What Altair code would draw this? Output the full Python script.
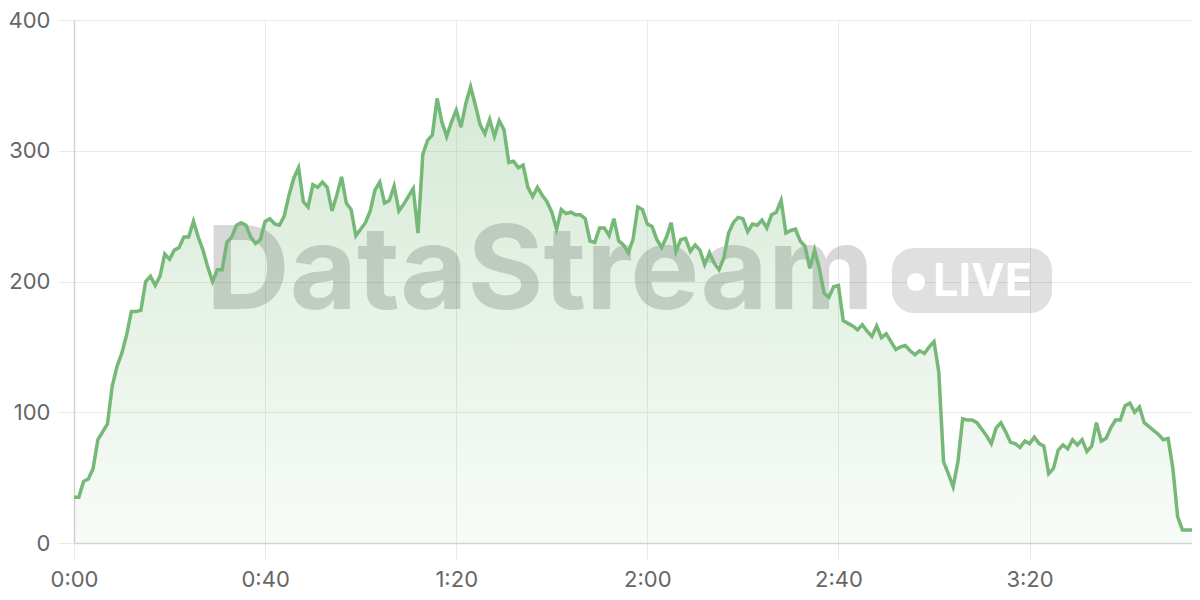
import altair as alt
import pandas as pd

values = [
    35, 35, 47, 49, 57, 79, 85, 91, 120, 135, 145, 159, 177, 177, 178, 200, 204, 197, 204, 221,
    217, 224, 226, 234, 234, 246, 234, 224, 211, 200, 209, 209, 230, 234, 243, 245, 243, 234, 229, 232,
    246, 248, 244, 243, 250, 266, 279, 287, 261, 257, 274, 272, 276, 272, 254, 266, 280, 260, 255, 235,
    240, 245, 254, 270, 276, 260, 262, 273, 254, 259, 265, 271, 237, 297, 308, 312, 340, 322, 311, 322,
    331, 318, 336, 349, 335, 320, 313, 324, 311, 323, 316, 291, 292, 287, 289, 272, 265, 272, 266, 261,
    253, 240, 255, 252, 253, 251, 251, 248, 231, 230, 241, 241, 235, 248, 231, 228, 222, 232, 257, 255,
    244, 242, 232, 226, 234, 245, 223, 232, 233, 223, 228, 224, 213, 222, 214, 209, 218, 237, 245, 249,
    248, 238, 244, 243, 247, 241, 251, 253, 262, 237, 239, 240, 231, 227, 210, 224, 210, 191, 188, 196,
    197, 170, 168, 166, 163, 167, 162, 158, 166, 157, 160, 154, 148, 150, 151, 147, 144, 147, 145, 150,
    154, 131, 62, 53, 43, 62, 95, 94, 94, 92, 87, 82, 76, 88, 92, 85, 77, 76, 73, 78,
    76, 81, 76, 74, 53, 57, 71, 75, 72, 79, 75, 79, 70, 74, 92, 78, 80, 88, 94, 94,
    105, 107, 100, 104, 92, 89, 86, 83, 79, 80, 57, 20, 10, 10, 10,
]
minutes = list(range(len(values)))
x_ticks = [0, 40, 80, 120, 160, 200]
y_ticks = [0, 100, 200, 300, 400]
watermark = ["DataStream"]
badge = ["LIVE"]

df = pd.DataFrame({"minute": minutes, "value": values})

FONT = "Inter"
GREEN = "#76b877"

x_enc = alt.X(
    "minute:Q",
    scale=alt.Scale(domain=[0, len(values) - 1], nice=False, zero=False),
    axis=alt.Axis(
        values=x_ticks,
        title=None,
        labelExpr="floor(datum.value/60) + ':' + (datum.value % 60 < 10 ? '0' : '') + (datum.value % 60)",
        labelPadding=10,
        labelFlush=False,
    ),
)
y_enc = alt.Y(
    "value:Q",
    scale=alt.Scale(domain=[0, 400], nice=False),
    axis=alt.Axis(values=y_ticks, title=None, labelPadding=8, labelFlush=False),
)

area = alt.Chart(df).mark_area(
    interpolate="linear",
    color=alt.Gradient(
        gradient="linear",
        stops=[
            alt.GradientStop(color="rgba(118,184,119,0.30)", offset=0),
            alt.GradientStop(color="rgba(118,184,119,0.05)", offset=1),
        ],
        x1=1, x2=1, y1=0, y2=1,
    ),
).encode(x=x_enc, y=y_enc)

line = alt.Chart(df).mark_line(
    color=GREEN, strokeWidth=3.5, interpolate="linear"
).encode(x="minute:Q", y="value:Q")

wm_text = alt.Chart(pd.DataFrame({"label": watermark})).mark_text(
    font=FONT, fontSize=116, fontWeight="bold", color="#000000", opacity=0.15,
    align="left", baseline="alphabetic",
).encode(x=alt.value(132), y=alt.value(289), text="label:N")

pill = alt.Chart(pd.DataFrame({"label": badge})).mark_rect(
    color="#000000", opacity=0.12, cornerRadius=22,
).encode(x=alt.value(818), x2=alt.value(978), y=alt.value(228), y2=alt.value(293))

dot = alt.Chart(pd.DataFrame({"label": badge})).mark_point(
    shape="circle", filled=True, color="#ffffff", opacity=1, size=330,
).encode(x=alt.value(842), y=alt.value(262))

live_text = alt.Chart(pd.DataFrame({"label": badge})).mark_text(
    font=FONT, fontSize=45, fontWeight="bold", color="#ffffff",
    align="left", baseline="alphabetic",
).encode(x=alt.value(859), y=alt.value(276), text="label:N")

chart = alt.layer(area, wm_text, pill, dot, live_text, line).properties(
    width=1118,
    height=523,
    padding={"left": 66, "top": 12, "right": 0, "bottom": 53},
    autosize=alt.AutoSizeParams(type="none"),
    background="#ffffff",
).configure_view(strokeWidth=0).configure_axis(
    grid=True,
    gridColor="#e9e9e9",
    gridWidth=1,
    tickColor="#e9e9e9",
    tickSize=16,
    tickWidth=1,
    domainColor="#d2d2d2",
    domainWidth=1.5,
    labelFont=FONT,
    labelFontSize=22,
    labelColor="#666666",
)

chart.save("out.html", embed_options={"renderer": "svg", "actions": False})
